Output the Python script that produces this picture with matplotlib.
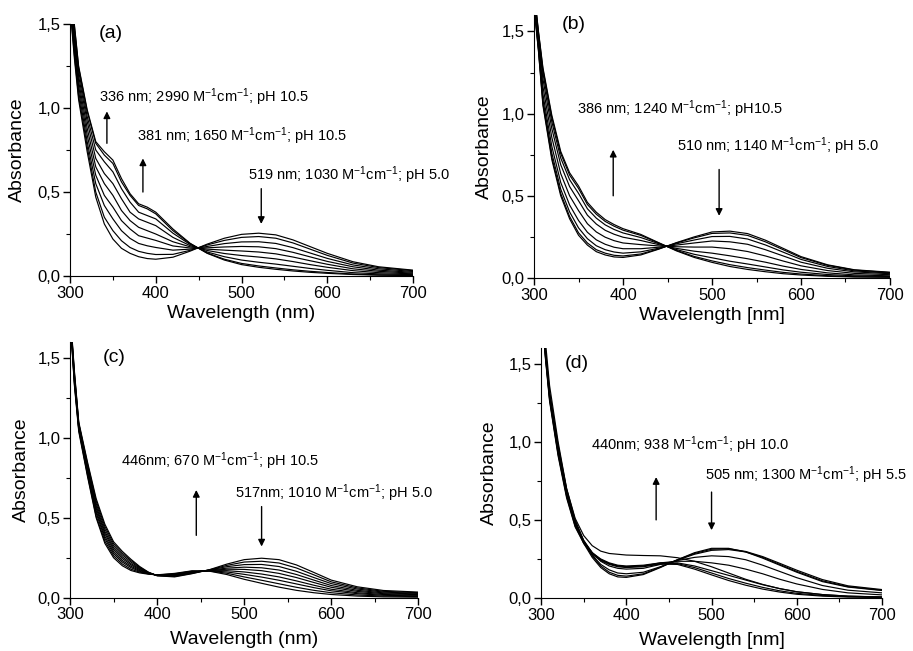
import matplotlib
matplotlib.use("Agg")
import matplotlib.pyplot as plt
from matplotlib.ticker import MultipleLocator, FuncFormatter

# wavelength grid (nm) shared by all spectra
wl = [300, 305, 310, 320, 330, 340, 350, 360, 370, 380, 390, 400, 420, 440, 460,
      480, 500, 520, 540, 560, 580, 600, 630, 660, 700]

# (a) pH 10.5 -> pH 5.0
spectra_a = [
    [1.75, 1.50, 1.25, 0.99, 0.80, 0.74, 0.69, 0.58, 0.49, 0.43, 0.41, 0.38, 0.28, 0.195, 0.135, 0.095, 0.068, 0.052, 0.04, 0.03, 0.022, 0.016, 0.009, 0.005, 0.003],
    [1.744, 1.492, 1.242, 0.98, 0.79, 0.72, 0.67, 0.56, 0.48, 0.42, 0.40, 0.37, 0.27, 0.193, 0.137, 0.10, 0.075, 0.06, 0.048, 0.037, 0.028, 0.021, 0.012, 0.007, 0.004],
    [1.728, 1.47, 1.22, 0.95, 0.75, 0.68, 0.62, 0.52, 0.44, 0.38, 0.36, 0.34, 0.255, 0.188, 0.143, 0.115, 0.095, 0.082, 0.071, 0.058, 0.045, 0.034, 0.02, 0.013, 0.008],
    [1.705, 1.44, 1.19, 0.92, 0.70, 0.61, 0.55, 0.46, 0.38, 0.34, 0.32, 0.30, 0.23, 0.181, 0.152, 0.134, 0.122, 0.113, 0.102, 0.086, 0.068, 0.052, 0.032, 0.02, 0.013],
    [1.683, 1.41, 1.16, 0.88, 0.65, 0.55, 0.48, 0.39, 0.33, 0.29, 0.27, 0.25, 0.204, 0.174, 0.16, 0.154, 0.149, 0.143, 0.132, 0.113, 0.091, 0.07, 0.043, 0.028, 0.017],
    [1.66, 1.38, 1.13, 0.84, 0.60, 0.48, 0.41, 0.33, 0.28, 0.24, 0.226, 0.212, 0.179, 0.167, 0.168, 0.173, 0.176, 0.174, 0.163, 0.141, 0.114, 0.087, 0.055, 0.035, 0.022],
    [1.638, 1.35, 1.10, 0.80, 0.55, 0.42, 0.34, 0.27, 0.224, 0.194, 0.18, 0.17, 0.154, 0.16, 0.176, 0.193, 0.203, 0.204, 0.194, 0.169, 0.137, 0.105, 0.066, 0.043, 0.027],
    [1.615, 1.32, 1.07, 0.77, 0.50, 0.35, 0.27, 0.21, 0.17, 0.147, 0.135, 0.128, 0.129, 0.153, 0.185, 0.212, 0.23, 0.235, 0.225, 0.197, 0.16, 0.123, 0.077, 0.05, 0.032],
    [1.60, 1.30, 1.05, 0.74, 0.47, 0.31, 0.22, 0.165, 0.135, 0.115, 0.104, 0.10, 0.112, 0.148, 0.19, 0.225, 0.248, 0.255, 0.245, 0.215, 0.175, 0.135, 0.085, 0.055, 0.035],
]

# (b) pH 10.5 -> pH 5.0
spectra_b = [
    [1.75, 1.50, 1.28, 0.99, 0.77, 0.64, 0.56, 0.46, 0.40, 0.355, 0.325, 0.30, 0.265, 0.215, 0.165, 0.125, 0.095, 0.07, 0.052, 0.038, 0.026, 0.018, 0.01, 0.006, 0.004],
    [1.745, 1.494, 1.269, 0.977, 0.757, 0.626, 0.545, 0.447, 0.388, 0.344, 0.315, 0.291, 0.259, 0.213, 0.168, 0.131, 0.104, 0.081, 0.063, 0.048, 0.034, 0.024, 0.014, 0.008, 0.006],
    [1.735, 1.482, 1.246, 0.95, 0.73, 0.598, 0.515, 0.421, 0.364, 0.323, 0.295, 0.274, 0.246, 0.209, 0.173, 0.144, 0.123, 0.102, 0.085, 0.067, 0.049, 0.035, 0.021, 0.013, 0.009],
    [1.72, 1.464, 1.211, 0.909, 0.689, 0.556, 0.47, 0.382, 0.328, 0.29, 0.266, 0.248, 0.228, 0.203, 0.18, 0.163, 0.151, 0.135, 0.117, 0.096, 0.072, 0.052, 0.031, 0.019, 0.013],
    [1.70, 1.44, 1.165, 0.855, 0.635, 0.50, 0.41, 0.33, 0.28, 0.248, 0.227, 0.213, 0.203, 0.195, 0.19, 0.188, 0.188, 0.178, 0.161, 0.134, 0.103, 0.074, 0.045, 0.028, 0.02],
    [1.68, 1.416, 1.119, 0.801, 0.581, 0.444, 0.35, 0.278, 0.232, 0.205, 0.187, 0.178, 0.178, 0.187, 0.20, 0.213, 0.225, 0.22, 0.205, 0.172, 0.134, 0.096, 0.059, 0.037, 0.026],
    [1.665, 1.398, 1.085, 0.76, 0.54, 0.402, 0.305, 0.239, 0.196, 0.172, 0.158, 0.151, 0.159, 0.181, 0.208, 0.231, 0.252, 0.253, 0.237, 0.201, 0.157, 0.113, 0.07, 0.043, 0.03],
    [1.655, 1.386, 1.062, 0.734, 0.514, 0.374, 0.275, 0.213, 0.172, 0.151, 0.138, 0.134, 0.146, 0.177, 0.213, 0.244, 0.271, 0.274, 0.259, 0.22, 0.172, 0.124, 0.077, 0.048, 0.033],
    [1.65, 1.38, 1.05, 0.72, 0.50, 0.36, 0.26, 0.20, 0.16, 0.14, 0.128, 0.125, 0.14, 0.175, 0.215, 0.25, 0.28, 0.285, 0.27, 0.23, 0.18, 0.13, 0.08, 0.05, 0.035],
]

# (c) pH 10.5 -> pH 5.0
spectra_c = [
    [1.75, 1.33, 1.04, 0.76, 0.50, 0.34, 0.25, 0.20, 0.17, 0.155, 0.147, 0.143, 0.152, 0.168, 0.166, 0.145, 0.115, 0.09, 0.066, 0.046, 0.031, 0.02, 0.01, 0.005, 0.003],
    [1.76, 1.341, 1.05, 0.77, 0.51, 0.354, 0.262, 0.211, 0.178, 0.16, 0.149, 0.142, 0.149, 0.166, 0.167, 0.153, 0.13, 0.109, 0.087, 0.065, 0.046, 0.031, 0.017, 0.01, 0.007],
    [1.76, 1.353, 1.06, 0.78, 0.53, 0.37, 0.275, 0.223, 0.188, 0.165, 0.15, 0.142, 0.147, 0.164, 0.168, 0.161, 0.146, 0.129, 0.109, 0.086, 0.063, 0.043, 0.025, 0.015, 0.011],
    [1.77, 1.363, 1.06, 0.79, 0.544, 0.384, 0.287, 0.233, 0.196, 0.17, 0.152, 0.141, 0.144, 0.161, 0.169, 0.169, 0.161, 0.148, 0.13, 0.105, 0.078, 0.053, 0.031, 0.02, 0.015],
    [1.78, 1.375, 1.07, 0.805, 0.56, 0.40, 0.30, 0.245, 0.205, 0.175, 0.154, 0.14, 0.141, 0.159, 0.171, 0.178, 0.177, 0.169, 0.152, 0.126, 0.095, 0.065, 0.039, 0.025, 0.019],
    [1.78, 1.386, 1.08, 0.816, 0.574, 0.414, 0.312, 0.256, 0.213, 0.18, 0.155, 0.139, 0.138, 0.157, 0.172, 0.185, 0.191, 0.187, 0.173, 0.145, 0.11, 0.076, 0.046, 0.03, 0.023],
    [1.79, 1.398, 1.09, 0.828, 0.59, 0.43, 0.325, 0.268, 0.223, 0.185, 0.157, 0.139, 0.136, 0.155, 0.173, 0.194, 0.207, 0.208, 0.195, 0.165, 0.126, 0.088, 0.054, 0.035, 0.027],
    [1.79, 1.409, 1.09, 0.84, 0.606, 0.446, 0.338, 0.279, 0.232, 0.19, 0.158, 0.138, 0.133, 0.152, 0.174, 0.202, 0.223, 0.228, 0.217, 0.186, 0.143, 0.099, 0.061, 0.04, 0.031],
    [1.80, 1.42, 1.10, 0.85, 0.62, 0.46, 0.35, 0.29, 0.24, 0.195, 0.16, 0.137, 0.13, 0.15, 0.175, 0.21, 0.238, 0.247, 0.238, 0.205, 0.158, 0.11, 0.068, 0.045, 0.035],
]

# (d) pH 5.5 ... pH 10.0
spectra_d = [
    [1.95, 1.58, 1.30, 0.97, 0.68, 0.48, 0.35, 0.26, 0.195, 0.155, 0.135, 0.132, 0.15, 0.195, 0.245, 0.29, 0.318, 0.318, 0.295, 0.255, 0.21, 0.165, 0.105, 0.07, 0.048],
    [1.97, 1.60, 1.32, 0.98, 0.70, 0.50, 0.365, 0.27, 0.205, 0.165, 0.145, 0.14, 0.155, 0.198, 0.245, 0.285, 0.312, 0.315, 0.298, 0.265, 0.222, 0.178, 0.118, 0.078, 0.054],
    [1.96, 1.59, 1.31, 0.96, 0.69, 0.49, 0.36, 0.275, 0.215, 0.18, 0.16, 0.155, 0.165, 0.20, 0.242, 0.28, 0.305, 0.31, 0.295, 0.26, 0.215, 0.17, 0.11, 0.073, 0.05],
    [1.95, 1.58, 1.30, 0.95, 0.68, 0.49, 0.37, 0.29, 0.235, 0.205, 0.19, 0.185, 0.19, 0.215, 0.24, 0.26, 0.27, 0.265, 0.245, 0.21, 0.17, 0.13, 0.08, 0.05, 0.033],
    [1.94, 1.57, 1.29, 0.94, 0.67, 0.48, 0.365, 0.29, 0.245, 0.22, 0.205, 0.20, 0.205, 0.225, 0.235, 0.235, 0.225, 0.21, 0.185, 0.155, 0.12, 0.09, 0.055, 0.033, 0.02],
    [1.93, 1.56, 1.28, 0.93, 0.66, 0.47, 0.36, 0.29, 0.25, 0.225, 0.21, 0.205, 0.21, 0.225, 0.225, 0.205, 0.175, 0.145, 0.115, 0.085, 0.06, 0.04, 0.022, 0.012, 0.007],
    [1.92, 1.55, 1.27, 0.92, 0.65, 0.46, 0.355, 0.285, 0.245, 0.22, 0.205, 0.20, 0.205, 0.22, 0.22, 0.195, 0.16, 0.125, 0.095, 0.068, 0.046, 0.03, 0.016, 0.009, 0.005],
    [1.92, 1.54, 1.26, 0.91, 0.64, 0.455, 0.35, 0.28, 0.24, 0.215, 0.20, 0.195, 0.20, 0.217, 0.215, 0.185, 0.148, 0.112, 0.082, 0.057, 0.038, 0.024, 0.012, 0.006, 0.003],
    [2.0, 1.65, 1.36, 1.0, 0.70, 0.51, 0.40, 0.335, 0.30, 0.285, 0.28, 0.275, 0.272, 0.27, 0.258, 0.235, 0.20, 0.16, 0.12, 0.087, 0.06, 0.04, 0.022, 0.012, 0.006],
]

plt.rcParams['font.family'] = ['Liberation Sans', 'DejaVu Sans']
plt.rcParams['mathtext.fontset'] = 'custom'
plt.rcParams['mathtext.rm'] = 'Liberation Sans'
plt.rcParams['mathtext.it'] = 'Liberation Sans:italic'

UNIT = r"M$^{-1}$cm$^{-1}$"

panels = [
    dict(data=spectra_a, rect=[0.0767, 0.576, 0.3757, 0.3871], ytop=1.5,
         xlabel="Wavelength (nm)", letter="(a)", letter_xy=(333, 1.445),
         ylab_x=-0.152, xlab_y=-0.147,
         texts=[(334, 1.067, "336 nm; 2990 " + UNIT + "; pH 10.5"),
                (378, 0.83, "381 nm; 1650 " + UNIT + "; pH 10.5"),
                (508, 0.60, "519 nm; 1030 " + UNIT + "; pH 5.0")],
         arrows=[(343, 0.79, 0.98), (385, 0.50, 0.70), (523, 0.52, 0.31)]),
    dict(data=spectra_b, rect=[0.5849, 0.573, 0.3899, 0.404], ytop=1.6,
         xlabel="Wavelength [nm]", letter="(b)", letter_xy=(331, 1.54),
         ylab_x=-0.138, xlab_y=-0.141,
         texts=[(348, 1.024, "386 nm; 1240 " + UNIT + "; pH10.5"),
                (461, 0.80, "510 nm; 1140 " + UNIT + "; pH 5.0")],
         arrows=[(389, 0.50, 0.78), (508, 0.66, 0.378)]),
    dict(data=spectra_c, rect=[0.0767, 0.0819, 0.3815, 0.3928], ytop=1.6,
         xlabel="Wavelength (nm)", letter="(c)", letter_xy=(338, 1.50),
         ylab_x=-0.139, xlab_y=-0.165,
         texts=[(358, 0.851, "446nm; 670 " + UNIT + "; pH 10.5"),
                (490, 0.653, "517nm; 1010 " + UNIT + "; pH 5.0")],
         arrows=[(445, 0.39, 0.674), (520, 0.57, 0.32)]),
    dict(data=spectra_d, rect=[0.5926, 0.0814, 0.3735, 0.384], ytop=1.6,
         xlabel="Wavelength [nm]", letter="(d)", letter_xy=(328, 1.50),
         ylab_x=-0.15, xlab_y=-0.168,
         texts=[(359, 0.976, "440nm; 938 " + UNIT + "; pH 10.0"),
                (492, 0.785, "505 nm; 1300 " + UNIT + "; pH 5.5")],
         arrows=[(435, 0.50, 0.774), (500, 0.678, 0.434)]),
]


def comma(v, pos):
    return f"{v:.1f}".replace(".", ",")


fig = plt.figure(figsize=(9.13, 6.51), dpi=100)

for p in panels:
    ax = fig.add_axes(p["rect"])
    for spec in p["data"]:
        ax.plot(wl, spec, color="black", lw=0.85)
    ax.set_xlim(300, 700)
    ax.set_ylim(0, p["ytop"])
    ax.spines["top"].set_visible(False)
    ax.spines["right"].set_visible(False)
    ax.xaxis.set_major_locator(MultipleLocator(100))
    ax.xaxis.set_minor_locator(MultipleLocator(50))
    ax.yaxis.set_major_locator(MultipleLocator(0.5))
    ax.yaxis.set_minor_locator(MultipleLocator(0.25))
    ax.yaxis.set_major_formatter(FuncFormatter(comma))
    ax.tick_params(which="major", direction="out", length=5, width=1,
                   labelsize=12, pad=2)
    ax.tick_params(which="minor", direction="out", length=3, width=0.8)
    ax.set_xlabel(p["xlabel"], fontsize=14)
    ax.set_ylabel("Absorbance", fontsize=14)
    ax.xaxis.set_label_coords(0.5, p["xlab_y"])
    ax.xaxis.label.set_va("center")
    ax.yaxis.set_label_coords(p["ylab_x"], 0.5)
    ax.yaxis.label.set_va("center")

    ax.text(*p["letter_xy"], p["letter"], fontsize=14, va="center", ha="left")
    for x, y, s in p["texts"]:
        ax.text(x, y, s, fontsize=10.5, va="center", ha="left", clip_on=False)
    for x, y0, y1 in p["arrows"]:
        ax.annotate("", xy=(x, y1), xytext=(x, y0),
                    arrowprops=dict(arrowstyle="-|>", color="black", lw=1.0,
                                    mutation_scale=10, shrinkA=0, shrinkB=0))

fig.savefig("out.png", dpi=100)
